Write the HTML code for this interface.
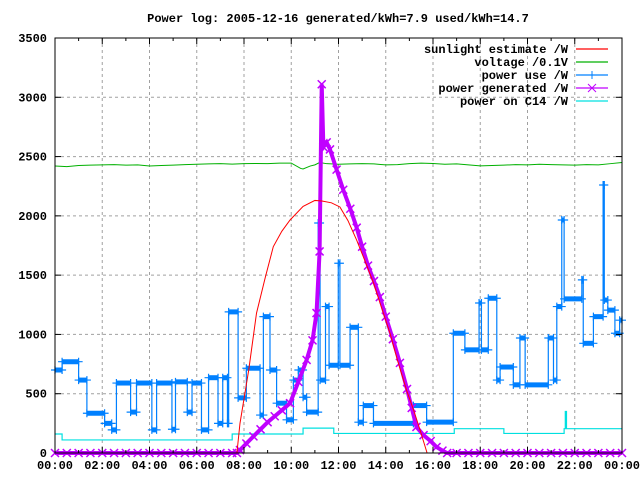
<!DOCTYPE html>
<html><head><meta charset="utf-8"><style>
body{margin:0;background:#fff}
svg{display:block}
text{font-family:"Liberation Mono",monospace;font-size:12px;font-weight:bold;fill:#000}
</style></head><body>
<svg id="chart" width="640" height="480" viewBox="0 0 640 480" xmlns="http://www.w3.org/2000/svg">
<text x="338" y="22" text-anchor="middle">Power log: 2005-12-16 generated/kWh=7.9 used/kWh=14.7</text>
<g id="grid"></g>
<g id="series"></g>
<g id="axes"></g>
<g id="legend"></g>
</svg>
<script>
const yTicks=[0,500,1000,1500,2000,2500,3000,3500];
const xTickLabels=["00:00","02:00","04:00","06:00","08:00","10:00","12:00","14:00","16:00","18:00","20:00","22:00","00:00"];
const sunHours=[7.7,7.83,8.2,8.53,8.9,9.24,9.6,9.95,10.5,11.0,11.3,11.7,12.06,12.4,12.77,13.1,13.48,13.8,14.18,14.5,14.88,15.2,15.45,15.75];
const sunValues=[0,250,700,1180,1480,1740,1870,1965,2080,2130,2125,2110,2075,1960,1795,1630,1435,1240,1010,780,530,350,195,0];
const voltHours=[0,0.5,1,1.5,2,2.5,3,3.5,4,4.5,5,5.5,6,6.5,7,7.5,8,8.5,9,9.5,10,10.4,10.5,10.8,11,11.2,11.5,12,12.5,13,13.5,14,14.5,15,15.5,16,16.5,17,17.5,18,18.5,19,19.5,20,20.5,21,21.5,22,22.5,23,23.5,24];
const voltValues=[2420,2415,2425,2428,2430,2432,2428,2430,2420,2425,2428,2432,2435,2438,2440,2436,2440,2442,2440,2445,2445,2400,2395,2420,2430,2450,2440,2435,2438,2440,2438,2430,2432,2440,2445,2442,2435,2438,2430,2422,2425,2428,2432,2430,2435,2432,2430,2428,2432,2430,2440,2450];
const useStart=[0,0.3,1.0,1.35,2.1,2.4,2.6,3.2,3.45,4.1,4.3,4.95,5.1,5.6,5.8,6.2,6.5,6.9,7.1,7.3,7.35,7.75,8.1,8.68,8.82,9.1,9.38,9.8,10.09,10.3,10.5,10.65,11.14,11.22,11.45,11.6,11.99,12.06,12.49,12.84,13.05,13.48,15.17,15.73,16.86,17.35,17.95,18.05,18.34,18.7,18.84,19.4,19.68,19.9,20.88,21.1,21.24,21.45,21.55,22.3,22.36,22.79,23.2,23.25,23.4,23.7,23.9];
const useValues=[700,770,615,335,250,195,590,345,590,195,590,200,600,345,590,195,635,250,635,250,1190,465,715,320,1150,700,420,280,615,700,470,345,1940,615,1235,740,1600,740,1060,260,400,250,400,260,1010,870,1265,870,1305,615,725,575,970,575,970,615,1235,1965,1300,1460,925,1150,2260,1290,1205,1010,1120];
const useEnd=24;
const genHours=[0,0.5,1,1.5,2,2.5,3,3.5,4,4.5,5,5.5,6,6.5,7,7.5,7.7,7.83,8.1,8.4,8.7,9.0,9.3,9.6,9.95,10.3,10.65,10.9,11.07,11.2,11.29,11.36,11.5,11.64,11.92,12.2,12.5,12.77,13.0,13.25,13.5,13.75,14.0,14.3,14.6,14.9,15.1,15.3,15.6,15.9,16.15,16.4,16.6,17,17.5,18,18.5,19,19.5,20,20.5,21,21.5,22,22.5,23,23.5,24];
const genValues=[0,0,0,0,0,0,0,0,0,0,0,0,0,0,0,0,0,25,80,140,200,260,310,360,420,600,785,950,1180,1700,3110,2580,2620,2560,2390,2220,2060,1900,1740,1580,1450,1315,1150,960,760,540,380,220,150,100,50,20,0,0,0,0,0,0,0,0,0,0,0,0,0,0,0,0];
const c14Hours=[0,0.3,7.5,10.5,11.8,16.9,19.0,21.55,21.6,21.65,24];
const c14Values=[160,110,160,210,165,205,165,205,350,205,205];

const X0=55,X1=622,Y0=453,Y1=38;
const xs=h=>X0+(X1-X0)*h/24;
const ys=v=>Y0-(Y0-Y1)*v/3500;
const NS="http://www.w3.org/2000/svg";
function mk(tag,parent,attrs){const e=document.createElementNS(NS,tag);for(const k in attrs)e.setAttribute(k,attrs[k]);parent.appendChild(e);return e;}
const grid=document.getElementById('grid'),axes=document.getElementById('axes'),ser=document.getElementById('series'),leg=document.getElementById('legend');

yTicks.forEach((v,i)=>{
  const y=ys(v);
  if(v>0&&v<3500){const g=mk('line',grid,{x1:X0,x2:X1,y1:y,y2:y,stroke:'#a0a0a0','stroke-dasharray':'3,3'});
  
  }
  mk('line',axes,{x1:X0,x2:X0+6,y1:y,y2:y,stroke:'#000'});
  mk('line',axes,{x1:X1-6,x2:X1,y1:y,y2:y,stroke:'#000'});
  const t=mk('text',axes,{x:X0-8,y:y+4,'text-anchor':'end'});t.textContent=v;
  
  
});
xTickLabels.forEach((lab,i)=>{
  const x=xs(i*2);
  if(i>0&&i<12){const g=mk('line',grid,{x1:x,x2:x,y1:Y1,y2:Y0,stroke:'#a0a0a0','stroke-dasharray':'3,3'});
  
  }
  mk('line',axes,{x1:x,x2:x,y1:Y0,y2:Y0-6,stroke:'#000'});
  mk('line',axes,{x1:x,x2:x,y1:Y1,y2:Y1+6,stroke:'#000'});
  if(i<12){const xm=xs(i*2+1);mk('line',axes,{x1:xm,x2:xm,y1:Y0,y2:Y0-3,stroke:'#000'});mk('line',axes,{x1:xm,x2:xm,y1:Y1,y2:Y1+3,stroke:'#000'});}
  const t=mk('text',axes,{x:x,y:Y0+16,'text-anchor':'middle'});t.textContent=lab;
  
  
});
const fr=mk('rect',axes,{x:X0,y:Y1,width:X1-X0,height:Y0-Y1,fill:'none',stroke:'#000'});



function poly(hs,vs,color,w,name){const p=mk('polyline',ser,{points:hs.map((h,i)=>xs(h)+','+ys(vs[i])).join(' '),fill:'none',stroke:color,'stroke-width':w});
  
  return p;}
const c14StepH=[],c14StepV=[];
c14Hours.forEach((h,i)=>{if(i>0){c14StepH.push(h);c14StepV.push(c14Values[i-1]);}c14StepH.push(h);c14StepV.push(c14Values[i]);});
poly(c14StepH,c14StepV,'#00e0e0',1.2,'c14-line');
poly(voltHours,voltValues,'#00b000',1,'voltage-line');
const uH=[],uV=[];
useStart.forEach((h,i)=>{const e=i<useStart.length-1?useStart[i+1]:useEnd;uH.push(h,e);uV.push(useValues[i],useValues[i]);});
poly(uH,uV,'#0080ff',1.2,'power-use-line');
useStart.forEach((h,i)=>{
  const e=i<useStart.length-1?useStart[i+1]:useEnd;const y=ys(useValues[i]);
  const b=mk('line',ser,{x1:xs(h),x2:xs(e),y1:y,y2:y,stroke:'#0080ff','stroke-width':5});
  
  
  const m=mk('path',ser,{d:`M${xs(h)-4},${y}h8M${xs(h)},${y-4}v8M${xs(e)-4},${y}h8M${xs(e)},${y-4}v8`,stroke:'#0080ff','stroke-width':1.2});
  
  
});
poly(genHours,genValues,'#c000ff',4,'power-generated-line');
poly(genHours,genValues,'#c000ff',1.2,'power-generated-thin');
genHours.forEach((h,i)=>{const x=xs(h),y=ys(genValues[i]);
  const m=mk('path',ser,{d:`M${x-4},${y-4}l8,8M${x-4},${y+4}l8,-8`,stroke:'#c000ff','stroke-width':1.5});
  
  });
poly(sunHours,sunValues,'#ff0000',1,'sunlight-line');

const legendLabels=["sunlight estimate /W","voltage /0.1V","power use /W","power generated /W","power on C14 /W"];
const legendColors=['#ff0000','#00b000','#0080ff','#c000ff','#00e0e0'];
legendLabels.forEach((lab,i)=>{
  const y=49+i*13;
  const g=mk('g',leg,{});
  
  
  const t=mk('text',g,{x:568,y:y+4,'text-anchor':'end'});t.textContent=lab;
  mk('line',g,{x1:576,x2:608,y1:y,y2:y,stroke:legendColors[i],'stroke-width':1.2});
  if(i==2)mk('path',g,{d:`M588,${y}h8M592,${y-4}v8`,stroke:legendColors[i]});
  if(i==3)mk('path',g,{d:`M588,${y-4}l8,8M588,${y+4}l8,-8`,stroke:legendColors[i]});
});
</script>
</body></html>
